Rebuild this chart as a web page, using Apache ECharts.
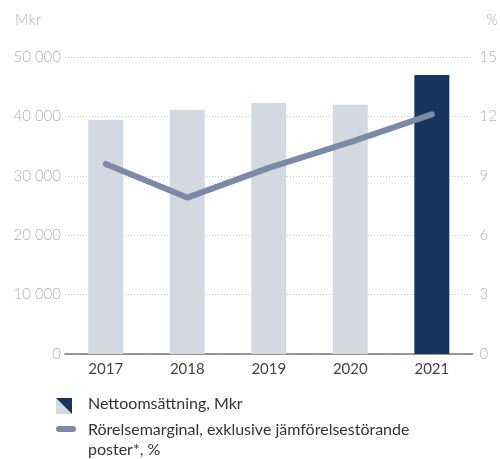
<!DOCTYPE html>
<html>
<head>
<meta charset="utf-8">
<script src="https://cdn.jsdelivr.net/npm/echarts@6/dist/echarts.min.js"></script>
<style>
  html, body { margin: 0; padding: 0; background: #fff; }
  #chart { width: 500px; height: 459px; }
</style>
</head>
<body>
<div id="chart"></div>
<script>
  var years = ['2017', '2018', '2019', '2020', '2021']
  var netSales = [39400, 41100, 42250, 41950, 46950]
  var margin = [9.6, 7.9, 9.4, 10.7, 12.1]
  var salesTicks = [0, 10000, 20000, 30000, 40000, 50000]
  var marginTicks = [0, 3, 6, 9, 12, 15]

  var light = '#d3d8e1'
  var dark = '#16355f'
  var lineColor = '#7b8aa5'
  var font = 'Lato'

  var chart = echarts.init(document.getElementById('chart'))

  function fmt(v) {
    return String(v).replace(/\B(?=(\d{3})+(?!\d))/g, ' ')
  }

  var axisLabel = { color: '#b3b3b3', fontSize: 15, fontFamily: font, fontWeight: 300, margin: 4 }
  var splitLine = { show: true, lineStyle: { color: '#c8c8c8', type: [1, 2], width: 1 } }

  chart.setOption({
    animation: false,
    textStyle: { fontFamily: font },
    grid: { left: 65, right: 25, top: 57, bottom: 105 },
    xAxis: {
      type: 'category',
      data: years,
      axisTick: { show: false },
      axisLine: { lineStyle: { color: '#777', width: 1.5 } },
      axisLabel: { color: '#444', fontSize: 15, fontFamily: font, margin: 8 }
    },
    yAxis: [{
      type: 'value',
      min: salesTicks[0],
      max: salesTicks[salesTicks.length - 1],
      interval: salesTicks[1] - salesTicks[0],
      axisLine: { show: false },
      axisTick: { show: false },
      axisLabel: Object.assign({}, axisLabel, { formatter: fmt }),
      splitLine: splitLine
    }, {
      type: 'value',
      min: marginTicks[0],
      max: marginTicks[marginTicks.length - 1],
      interval: marginTicks[1] - marginTicks[0],
      axisLine: { show: false },
      axisTick: { show: false },
      axisLabel: Object.assign({}, axisLabel, { margin: 7 }),
      splitLine: { show: false }
    }],
    series: [{
      name: 'Nettoomsättning, Mkr',
      type: 'bar',
      barWidth: 35,
      data: netSales.map(function(v, i) {
        return { value: v, itemStyle: { color: i === netSales.length - 1 ? dark : light } }
      })
    }, {
      name: 'Rörelsemarginal, exklusive jämförelsestörande poster*, %',
      type: 'line',
      yAxisIndex: 1,
      data: margin,
      symbol: 'none',
      lineStyle: { color: lineColor, width: 6, cap: 'round', join: 'round' }
    }],
    graphic: [
      { type: 'text', left: 15, top: 13, style: { text: 'Mkr', fill: '#b3b3b3', font: '300 15px Lato' } },
      { type: 'text', right: 2, top: 13, style: { text: '%', fill: '#b3b3b3', font: '300 15px Lato' } },
      // legend: bar icon split on the diagonal
      { type: 'polygon', shape: { points: [[56, 398], [72, 414], [56, 414]] }, style: { fill: light } },
      { type: 'polygon', shape: { points: [[56, 398], [72, 398], [72, 414]] }, style: { fill: dark } },
      { type: 'text', left: 88, top: 396, style: { text: 'Nettoomsättning, Mkr', fill: '#333', font: '16px Lato' } },
      { type: 'line', shape: { x1: 59, y1: 429, x2: 73, y2: 429 }, style: { stroke: lineColor, lineWidth: 6, lineCap: 'round' } },
      { type: 'text', left: 88, top: 420, style: { text: 'Rörelsemarginal, exklusive jämförelsestörande\nposter*, %', fill: '#333', font: '16px Lato', lineHeight: 20 } }
    ]
  })
</script>
</body>
</html>
